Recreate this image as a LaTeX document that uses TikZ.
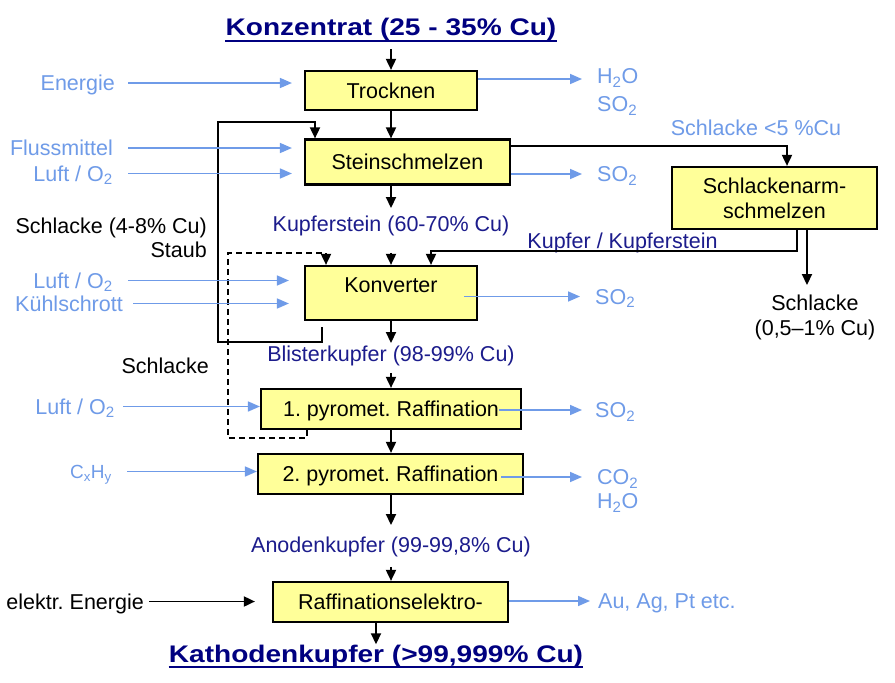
\documentclass[tikz,border=0pt]{standalone}
\usepackage{fontspec}
\setmainfont{Liberation Sans}
\usetikzlibrary{arrows.meta}
\definecolor{lblue}{HTML}{6F9BE8}
\definecolor{dblue}{HTML}{1C1C8C}
\definecolor{navyt}{HTML}{000080}
\definecolor{boxyellow}{HTML}{FFFF99}
\frenchspacing
\tikzset{
  txt/.style={font=\fontsize{21.5}{25}\selectfont, inner sep=0pt, text height=15.5pt, text depth=0pt},
  lbl/.style={txt, text=lblue},
  dlbl/.style={txt, text=dblue},
  ttl/.style={inner sep=0pt, text height=17.5pt, text depth=0pt, text=navyt, anchor=base},
  pbox/.style={draw=black, line width=2.2pt, fill=boxyellow, font=\fontsize{21.5}{25}\selectfont, inner sep=0pt},
  pboxt/.style={pbox, text height=15.5pt, text depth=0pt},
  blk/.style={draw=black, line width=1.8pt, -{Triangle[length=11pt,width=10pt]}},
  blu/.style={draw=lblue, line width=1.6pt, -{Triangle[length=12pt,width=10pt]}},
  uline/.style={draw=navyt, line width=2.6pt},
}
\begin{document}
\begin{tikzpicture}[x=1pt,y=-1pt]
\useasboundingbox (0,0) rectangle (895,683);
\fill[white] (0,0) rectangle (895,683);

% titles
\node[ttl] (konz) at (391,35) {\scalebox{1.17}[1]{\bfseries\fontsize{24}{28}\selectfont Konzentrat (25 - 35\% Cu)}};
\draw[uline] ([yshift=-6pt]konz.base west) -- ([yshift=-6pt]konz.base east);
\node[ttl] (kath) at (376,662) {\scalebox{1.17}[1]{\bfseries\fontsize{24}{28}\selectfont Kathodenkupfer (>99,999\% Cu)}};
\draw[uline] ([yshift=-5pt]kath.base west) -- ([yshift=-5pt]kath.base east);

% process boxes
\node[pboxt, minimum width=172pt, minimum height=39pt] (trock) at (391,90.5) {Trocknen};
\node[pboxt, minimum width=205pt, minimum height=45pt] (stein) at (407.5,162) {Steinschmelzen};
\node[pbox, minimum width=205pt, minimum height=62pt, align=center] (schlarm) at (774.5,198) {Schlackenarm-\\schmelzen};
\node[pbox, minimum width=172pt, minimum height=54pt] (konv) at (391,293) {};
\node[txt] (konvt) at (391,284.5) {Konverter};
\node[pboxt, minimum width=260pt, minimum height=40pt] (raf1) at (391,409) {1. pyromet. Raffination};
\node[pboxt, minimum width=265pt, minimum height=40pt] (raf2) at (390.5,474) {2. pyromet. Raffination};
\node[pboxt, minimum width=235pt, minimum height=40pt] (elek) at (390.5,602) {Raffinationselektro-};

% left labels
\node[lbl, anchor=east] (energie) at (115,83) {Energie};
\node[lbl, anchor=east] (fluss) at (113,148) {Flussmittel};
\node[lbl, anchor=east] (luft1) at (113,173.5) {Luft / O\textsubscript{2}};
\node[txt, anchor=east] (schl48) at (207,226) {Schlacke (4-8\% Cu)};
\node[txt, anchor=east] (staub) at (207,250) {Staub};
\node[lbl, anchor=east] (luft2) at (113,280.5) {Luft / O\textsubscript{2}};
\node[lbl, anchor=east] (kuehl) at (123,303.5) {Kühlschrott};
\node[txt, anchor=east] (schl) at (209,366) {Schlacke};
\node[lbl, anchor=east] (luft3) at (115,406.5) {Luft / O\textsubscript{2}};
\node[lbl, anchor=east, font=\fontsize{19}{22}\selectfont, text height=14pt] (cxhy) at (112,471.5) {C\textsubscript{x}H\textsubscript{y}};
\node[txt, anchor=east] (elektr) at (144,601.5) {elektr. Energie};

% middle labels
\node[dlbl] (kstein) at (391,224) {Kupferstein (60-70\% Cu)};
\node[dlbl] (kk) at (622.5,241) {Kupfer / Kupferstein};
\node[dlbl] (blister) at (391,354) {Blisterkupfer (98-99\% Cu)};
\node[dlbl] (anoden) at (391,545) {Anodenkupfer (99-99,8\% Cu)};

% right labels
\node[lbl, anchor=west] (h2oa) at (597,76) {H\textsubscript{2}O};
\node[lbl, anchor=west] (so2a) at (597,104) {SO\textsubscript{2}};
\node[lbl] (schl5) at (756,128) {Schlacke <5 \%Cu};
\node[lbl, anchor=west] (so2b) at (597,174) {SO\textsubscript{2}};
\node[lbl, anchor=west] (so2c) at (595,296.5) {SO\textsubscript{2}};
\node[txt] (schlB) at (815,303) {Schlacke};
\node[txt] (schlBp) at (815,328) {(0,5–1\% Cu)};
\node[lbl, anchor=west] (so2d) at (595,410) {SO\textsubscript{2}};
\node[lbl, anchor=west] (co2) at (597,477) {CO\textsubscript{2}};
\node[lbl, anchor=west] (h2ob) at (597,501) {H\textsubscript{2}O};
\node[lbl, anchor=west] (au) at (598,601) {Au, Ag, Pt etc.};

% main black flow
\draw[blk, shorten <=14pt] (konz.south) -- (trock.north);
\draw[blk] (trock.south) -- (trock.south |- stein.north);
\draw[blk] (kstein.north |- stein.south) -- ([yshift=8pt]kstein.north);
\draw[blk, shorten <=21pt] (kstein.south) -- (konv.north);
\draw[blk] (konv.south) -- ([yshift=3pt]blister.north);
\draw[blk, shorten <=11pt] (blister.south) -- (raf1.north);
\draw[blk] (raf1.south) -- (raf1.south |- raf2.north);
\draw[blk] (anoden.north |- raf2.south) -- ([yshift=12pt]anoden.north);
\draw[blk, shorten <=14pt] (anoden.south) -- (anoden.south |- elek.north);
\draw[blk] (kath.north |- elek.south) -- (kath.north);

% slag side branch
\draw[blk] ([yshift=16pt]stein.east) -| ([xshift=12.5pt]schlarm.north);
\draw[blk] ([xshift=22.5pt]schlarm.south) -- ++(0,21) -| ([xshift=40pt]konv.north);
\draw[blk] ([xshift=32.5pt]schlarm.south) -- ([xshift=-8pt,yshift=10pt]schlB.north);

% recycle loops
\coordinate (lA) at (218,342);
\coordinate (lB) at (218,122);
\draw[blk] ([xshift=-69pt,yshift=-6pt]konv.south) |- (lA) -- (lB) -| ([xshift=-92.5pt]stein.north);
\coordinate (dA) at (228,438);
\coordinate (dB) at (228,253);
\draw[blk, dash pattern=on 6pt off 4pt] ([xshift=-84pt]raf1.south) |- (dA) -- (dB) -| ([xshift=-65pt]konv.north);

% inputs
\draw[blu, shorten <=13pt, shorten >=12pt] (energie.east) -- (energie.east -| trock.west);
\draw[blu, shorten <=15pt, shorten >=12pt] (fluss.east) -- (fluss.east -| stein.west);
\draw[blu, shorten <=15pt, shorten >=12pt] (luft1.east) -- (luft1.east -| stein.west);
\draw[blu, shorten <=15pt, shorten >=15pt] (luft2.east) -- (luft2.east -| konv.west);
\draw[blu, shorten <=10pt, shorten >=15pt] (kuehl.east) -- (kuehl.east -| konv.west);
\draw[blu, shorten <=8pt] (luft3.east) -- (luft3.east -| raf1.west);
\draw[blu, shorten <=15pt] (cxhy.east) -- (cxhy.east -| raf2.west);
\draw[blk, shorten <=5pt, shorten >=17pt] (elektr.east) -- (elektr.east -| elek.west);

% outputs
\path ([yshift=-3pt]h2oa.west) coordinate (h2oin);
\draw[blu, shorten >=15pt] (h2oin -| trock.east) -- (h2oin);
\draw[blu, shorten >=15pt] (so2b.west -| stein.east) -- (so2b.west);
\path (so2c.west -| konv.east) coordinate (kc);
\draw[blu, shorten >=15pt] ([xshift=-14pt]kc) -- (so2c.west);
\path (so2d.west -| raf1.east) coordinate (r1c);
\draw[blu, shorten >=13pt] ([xshift=-23pt]r1c) -- (so2d.west);
\path (co2.west -| raf2.east) coordinate (r2c);
\draw[blu, shorten >=15pt] ([xshift=-23pt]r2c) -- (co2.west);
\draw[blu, shorten >=8pt] (au.west -| elek.east) -- (au.west);
\end{tikzpicture}
\end{document}
